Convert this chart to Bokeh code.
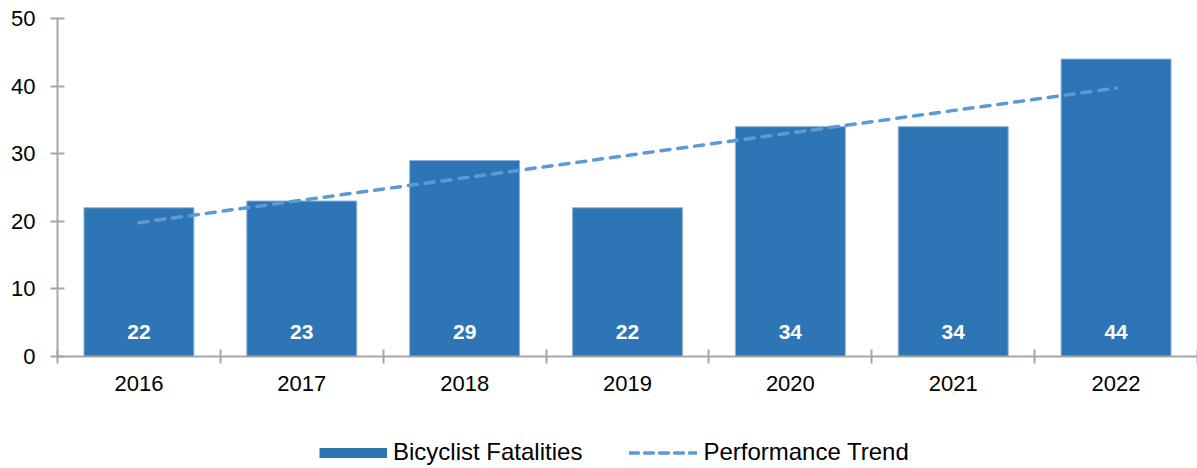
from bokeh.plotting import figure
from bokeh.layouts import column
from bokeh.models import Range1d, FixedTicker, Legend, LegendItem, ColumnDataSource
from bokeh.embed import file_html
from bokeh.resources import INLINE
from bokeh.core.properties import value

years = ["2016", "2017", "2018", "2019", "2020", "2021", "2022"]
fatalities = [22, 23, 29, 22, 34, 34, 44]
trend_years = ["2016", "2022"]
trend_values = [19.8, 39.7]
y_ticks = [0, 10, 20, 30, 40, 50]
series_names = ["Bicyclist Fatalities", "Performance Trend"]

FONT = "Liberation Sans"
BAR = "#2E75B6"
BAR_EDGE = "#8DB3DA"
TREND = "#5B9BD5"
AXIS = "#A6A6A6"

pos = {y: i + 0.5 for i, y in enumerate(years)}
src = ColumnDataSource(dict(x=[pos[y] for y in years], top=fatalities,
                            label=[str(v) for v in fatalities]))

p = figure(width=1197, height=420, output_backend="svg", toolbar_location=None,
           x_range=Range1d(0, len(years)), y_range=Range1d(0, 50),
           min_border_left=57, min_border_right=0, min_border_top=18, min_border_bottom=64)
p.outline_line_color = None
p.xgrid.visible = False
p.ygrid.visible = False

p.vbar(x="x", top="top", bottom=0, width=0.675, source=src,
       fill_color=BAR, line_color=BAR_EDGE, line_width=1)
p.text(x="x", y=0, text="label", source=src, text_color="white",
       text_font=value(FONT), text_font_style="bold", text_font_size="21px",
       text_align="center", text_baseline="middle", y_offset=-25)
p.line(x=[pos[y] for y in trend_years], y=trend_values, line_color=TREND,
       line_width=3.5, line_dash="9 8", line_cap="round")

# axes
p.xaxis.ticker = FixedTicker(ticks=[pos[y] for y in years],
                             minor_ticks=list(range(len(years) + 1)))
p.xaxis.major_label_overrides = {pos[y]: y for y in years}
p.xaxis.minor_tick_line_color = AXIS
p.xaxis.minor_tick_line_width = 2
p.xaxis.minor_tick_in = 7
p.xaxis.minor_tick_out = 7
p.xaxis.major_label_standoff = 12
p.yaxis.ticker = FixedTicker(ticks=y_ticks, minor_ticks=[])
p.yaxis.major_tick_in = 7
p.yaxis.major_tick_out = 7
p.yaxis.major_label_standoff = 15
for ax in (p.xaxis, p.yaxis):
    ax.axis_line_color = AXIS
    ax.axis_line_width = 2
    ax.major_tick_line_width = 2
    ax.major_label_text_font = FONT
    ax.major_label_text_font_size = "22px"
    ax.major_label_text_color = "black"
p.yaxis.major_tick_line_color = AXIS
p.xaxis.major_tick_line_color = None

# legend strip (swatch renderers sit outside the visible range; only the legend shows)
lg = figure(width=1197, height=48, output_backend="svg", toolbar_location=None,
            x_range=Range1d(0, 1), y_range=Range1d(0, 1),
            min_border_left=0, min_border_right=0, min_border_top=0, min_border_bottom=0)
lg.axis.visible = False
lg.grid.visible = False
lg.outline_line_color = None
r_bar = lg.line(x=[-10, -9], y=[-10, -10], line_color=BAR, line_width=10, line_cap="butt")
r_trend = lg.line(x=[-10, -9], y=[-10, -10], line_color=TREND, line_width=3.5,
                  line_dash="9 6", line_cap="round")
legend = Legend(items=[LegendItem(label=series_names[0], renderers=[r_bar]),
                       LegendItem(label=series_names[1], renderers=[r_trend])],
                orientation="horizontal", location=(262, 2),
                glyph_width=68, glyph_height=11, label_standoff=6, spacing=47,
                label_text_font=FONT, label_text_font_size="24px",
                label_text_color="black", border_line_color=None,
                background_fill_alpha=0, padding=2, margin=0)
lg.add_layout(legend, "center")

layout = column(p, lg, spacing=0)
open("out.html", "w").write(file_html(layout, INLINE))
